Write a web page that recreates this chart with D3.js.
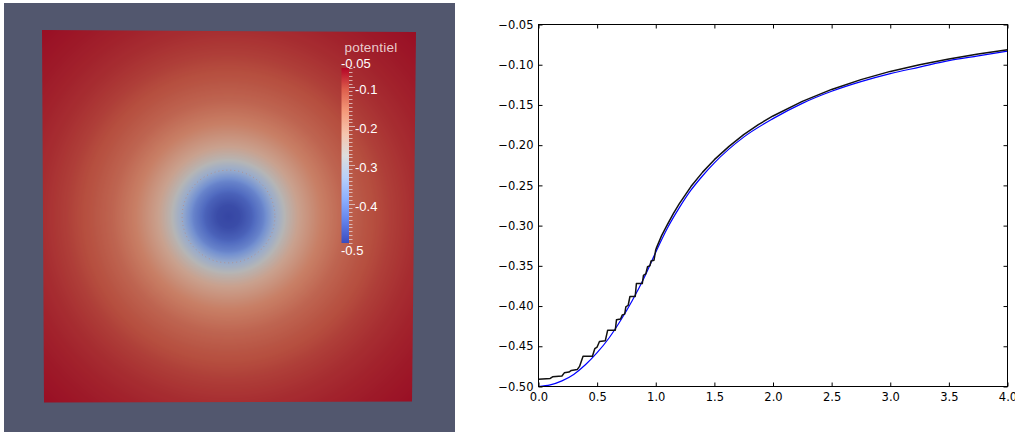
<!DOCTYPE html>
<html>
<head>
<meta charset="utf-8">
<script src="https://cdn.jsdelivr.net/npm/d3@7"></script>
<style>
  html, body { margin: 0; padding: 0; background: #ffffff; }
  svg { display: block; }
  .tick text { font-family: "DejaVu Sans", sans-serif; font-size: 11.5px; fill: #000; }
  .tick line { stroke: #000; stroke-width: 1; }
</style>
</head>
<body>
<svg id="fig" width="1015" height="432"></svg>
<script>
// ---- radial potential: numerical solution (stepped inside the sphere) ----
const numerical = [
  [0.000, -0.491], [0.100, -0.490], [0.120, -0.488], [0.200, -0.487],
  [0.220, -0.483], [0.260, -0.482], [0.280, -0.480], [0.330, -0.479],
  [0.350, -0.475], [0.380, -0.4625], [0.460, -0.4625], [0.480, -0.453],
  [0.500, -0.451], [0.520, -0.444], [0.570, -0.443], [0.590, -0.430],
  [0.655, -0.430], [0.665, -0.417], [0.700, -0.416], [0.715, -0.411],
  [0.735, -0.410], [0.745, -0.401], [0.765, -0.399], [0.780, -0.388],
  [0.825, -0.388], [0.835, -0.372], [0.885, -0.372], [0.895, -0.362],
  [0.915, -0.360], [0.930, -0.351], [0.950, -0.350], [0.960, -0.344],
  [0.985, -0.343], [1.000, -0.330], [1.005, -0.328], [1.050, -0.3125],
  [1.100, -0.2985], [1.150, -0.2850], [1.200, -0.2730], [1.300, -0.2515],
  [1.400, -0.2335], [1.500, -0.2180], [1.625, -0.2015], [1.750, -0.1870],
  [1.875, -0.1745], [2.000, -0.1637], [2.250, -0.1455], [2.500, -0.1307],
  [2.750, -0.1185], [3.000, -0.1083], [3.250, -0.1000], [3.500, -0.0928],
  [3.750, -0.0866], [4.000, -0.0813]
];

// ---- radial potential: exact solution ----
const exactR = [0, 0.1, 0.2, 0.3, 0.4, 0.5, 0.6, 0.7, 0.8, 0.9, 1.0, 1.1, 1.2,
                1.3, 1.4, 1.5, 1.75, 2.0, 2.25, 2.5, 2.75, 3.0, 3.25, 3.5, 3.75, 4.0];
const exactV = [-0.500, -0.498, -0.493, -0.485, -0.473, -0.458, -0.440, -0.418,
                -0.393, -0.365, -0.333, -0.303, -0.278, -0.256, -0.238, -0.222,
                -0.190, -0.167, -0.148, -0.133, -0.121, -0.111, -0.103, -0.095,
                -0.089, -0.083];

// ---- potential field on the square [-4,4]^2, as a radial profile ----
const fieldR = [0, 0.25, 0.5, 0.75, 1.0, 1.25, 1.5, 2.0, 2.5, 3.0, 3.5, 4.0, 4.5, 5.0, 5.7];
const fieldV = [-0.491, -0.482, -0.455, -0.408, -0.330, -0.265, -0.220, -0.164,
                -0.132, -0.110, -0.094, -0.082, -0.073, -0.066, -0.058];

// ---- axis ticks ----
const xTicks = [0, 0.5, 1.0, 1.5, 2.0, 2.5, 3.0, 3.5, 4.0];
const yTicks = [-0.50, -0.45, -0.40, -0.35, -0.30, -0.25, -0.20, -0.15, -0.10, -0.05];
const barLabels = [-0.1, -0.2, -0.3, -0.4];
const barRange = [-0.5, -0.05];

// cool-to-warm diverging map
const cwStops = [0, 0.125, 0.25, 0.375, 0.5, 0.625, 0.75, 0.875, 1];
const cwColors = ["#3b4cc0", "#6282ea", "#8db0fe", "#b8d0f9", "#dddddd",
                  "#f5c4ad", "#f49a7b", "#de604d", "#b40426"];

const svg = d3.select("#fig");

// =================== left panel: rendered field ===================
const bg = "#52576e";
svg.append("rect").attr("x", 4).attr("y", 3).attr("width", 451).attr("height", 429).attr("fill", bg);

const t01 = d3.scaleLinear().domain(barRange).range([0, 1]).clamp(true);
const cw = d3.scaleLinear().domain(cwStops).range(cwColors).interpolate(d3.interpolateRgb);
const potColor = v => cw(t01(v));

const quad = [[42, 30], [416, 32], [412, 401.5], [44, 402.5]];
const fx = d3.scaleLinear().domain([-4, 4]).range([43, 414]);
const fy = d3.scaleLinear().domain([4, -4]).range([31, 402]);
const profile = d3.scaleLinear().domain(fieldR).range(fieldV).clamp(true);
const shade = 0.82;

const x0 = 40, y0 = 28, W = 380, H = 378;
const cnv = document.createElement("canvas");
cnv.width = W; cnv.height = H;
const ctx = cnv.getContext("2d");
const img = ctx.createImageData(W, H);
for (let j = 0; j < H; j++) {
  for (let i = 0; i < W; i++) {
    const u = fx.invert(x0 + i + 0.5), w = fy.invert(y0 + j + 0.5);
    const r = Math.hypot(u, w);
    const c = d3.rgb(potColor(profile(r)));
    const k = (j * W + i) * 4;
    img.data[k] = c.r * shade;
    img.data[k + 1] = c.g * shade;
    img.data[k + 2] = c.b * shade;
    img.data[k + 3] = 255;
  }
}
ctx.putImageData(img, 0, 0);

const defs = svg.append("defs");
defs.append("clipPath").attr("id", "quadClip")
  .append("polygon").attr("points", quad.map(p => p.join(",")).join(" "));
svg.append("image")
  .attr("x", x0).attr("y", y0).attr("width", W).attr("height", H)
  .attr("href", cnv.toDataURL())
  .attr("clip-path", "url(#quadClip)");

// mesh boundary of the charged sphere
svg.append("circle")
  .attr("cx", fx(0)).attr("cy", fy(0)).attr("r", fx(1) - fx(0))
  .attr("fill", "none").attr("stroke", "#c8764f").attr("stroke-width", 0.9)
  .attr("stroke-dasharray", "1 3").attr("opacity", 0.55);

// colour bar
const by = d3.scaleLinear().domain(barRange).range([243, 68]);
const grad = defs.append("linearGradient").attr("id", "barGrad")
  .attr("x1", 0).attr("y1", 1).attr("x2", 0).attr("y2", 0);
grad.selectAll("stop").data(cwStops).join("stop")
  .attr("offset", d => d).attr("stop-color", (d, i) => cwColors[i]);
svg.append("rect").attr("x", 341.5).attr("y", by(-0.05)).attr("width", 7.5)
  .attr("height", by(-0.5) - by(-0.05)).attr("fill", "url(#barGrad)");

const minor = d3.range(0, 46).map(i => -0.05 - i * 0.01);
svg.append("g").selectAll("line").data(minor).join("line")
  .attr("x1", 349).attr("x2", d => barLabels.some(b => Math.abs(b - d) < 1e-6) ? 355 : 352.5)
  .attr("y1", d => Math.round(by(d)) + 0.5).attr("y2", d => Math.round(by(d)) + 0.5)
  .attr("stroke", "#e8d6d6").attr("stroke-width", 1).attr("opacity", 0.75);

const barText = svg.append("g")
  .attr("font-family", "'Liberation Sans', Arial, sans-serif")
  .attr("font-size", 13).attr("fill", "#ffffff");
barText.selectAll("text.lab").data(barLabels).join("text")
  .attr("x", 355).attr("y", d => by(d) + 6.5).text(d => d.toString());
barText.append("text").attr("x", 341).attr("y", by(-0.05)).text("-0.05");
barText.append("text").attr("x", 341).attr("y", by(-0.5) + 12).text("-0.5");
svg.append("text").attr("x", 344.5).attr("y", 52)
  .attr("font-family", "'Liberation Sans', Arial, sans-serif")
  .attr("font-size", 13.5).attr("letter-spacing", 0.2)
  .attr("fill", "#f2dede").attr("opacity", 0.9).text("potentiel");

// =================== right panel: radial profile ===================
const x = d3.scaleLinear().domain([0, 4]).range([538.5, 1007.5]);
const y = d3.scaleLinear().domain([-0.5, -0.05]).range([386.5, 24.5]);
const fmtY = d => d.toFixed(2).replace("-", "\u2212");

svg.append("rect").attr("x", 538.5).attr("y", 24.5)
  .attr("width", 469).attr("height", 362)
  .attr("fill", "#ffffff");

const plot = svg.append("g");
plot.append("path")
  .datum(exactR.map((r, i) => [r, exactV[i]]))
  .attr("fill", "none").attr("stroke", "#0000ff").attr("stroke-width", 1.2)
  .attr("d", d3.line().x(d => x(d[0])).y(d => y(d[1])).curve(d3.curveMonotoneX));
plot.append("path")
  .datum(numerical)
  .attr("fill", "none").attr("stroke", "#111111").attr("stroke-width", 1.5)
  .attr("stroke-linejoin", "round")
  .attr("d", d3.line().x(d => x(d[0])).y(d => y(d[1])));

const axB = svg.append("g").attr("transform", `translate(0,386.5)`)
  .call(d3.axisBottom(x).tickValues(xTicks).tickSize(-4).tickSizeOuter(0).tickPadding(6)
    .tickFormat(d3.format(".1f")));
const axT = svg.append("g").attr("transform", `translate(0,24.5)`)
  .call(d3.axisTop(x).tickValues(xTicks).tickSize(-4).tickSizeOuter(0).tickFormat(""));
const axL = svg.append("g").attr("transform", `translate(538.5,0)`)
  .call(d3.axisLeft(y).tickValues(yTicks).tickSize(-4).tickSizeOuter(0).tickPadding(5)
    .tickFormat(fmtY));
const axR = svg.append("g").attr("transform", `translate(1007.5,0)`)
  .call(d3.axisRight(y).tickValues(yTicks).tickSize(-4).tickSizeOuter(0).tickFormat(""));
[axB, axT, axL, axR].forEach(g => g.select(".domain").remove());

svg.append("rect").attr("x", 538.5).attr("y", 24.5)
  .attr("width", 469).attr("height", 362)
  .attr("fill", "none").attr("stroke", "#000").attr("stroke-width", 1);
</script>
</body>
</html>
